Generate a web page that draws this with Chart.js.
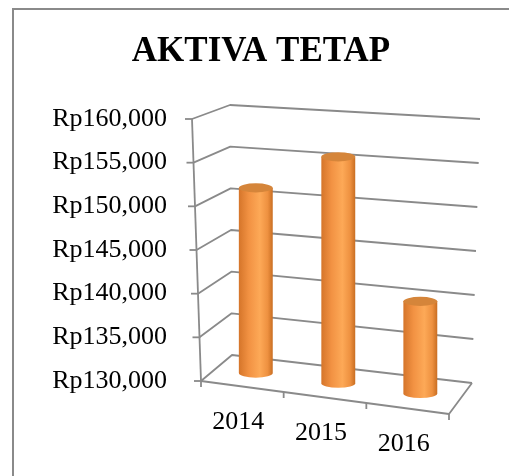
<!DOCTYPE html>
<html>
<head>
<meta charset="utf-8">
<script src="https://cdn.jsdelivr.net/npm/chart.js@4.4.1/dist/chart.umd.min.js"></script>
<style>
    html, body { margin: 0; padding: 0; background: #fff; }
</style>
</head>
<body>
<canvas id="aktivaChart" width="509" height="476"></canvas>
<script>
// chart data
const years = ['2014', '2015', '2016'];
const aktivaTetap = [151500, 155800, 140300];
const yMin = 130000;
const yMax = 160000;
const yStep = 5000;

const serif = "'Times New Roman', 'Liberation Serif', serif";
const lineGray = '#8a8a8a';

// corners of the 3d box, relative to the chart area (front plane)
function boxCorners(a) {
    return {
        f0L: [a.left, a.bottom],       f1L: [a.left - 9, a.top],
        b0L: [a.left + 31, a.bottom - 26], b1L: [a.left + 29, a.top - 14],
        f0R: [a.right, a.bottom + 33],  f1R: [a.right + 1, a.top + 18],
        b0R: [a.right + 23, a.bottom + 2], b1R: [a.right + 31, a.top]
    };
}

function lerp(p, q, t) {
    return [p[0] + (q[0] - p[0]) * t, p[1] + (q[1] - p[1]) * t];
}

// u: across (0..1), v: height (0..1), w: depth (0 front .. 1 back)
function project(c, u, v, w) {
    const floor = lerp(lerp(c.f0L, c.b0L, w), lerp(c.f0R, c.b0R, w), u);
    const ceil = lerp(lerp(c.f1L, c.b1L, w), lerp(c.f1R, c.b1R, w), u);
    return lerp(floor, ceil, v);
}

function line(ctx, pts) {
    ctx.beginPath();
    ctx.moveTo(pts[0][0], pts[0][1]);
    for (let i = 1; i < pts.length; i++) ctx.lineTo(pts[i][0], pts[i][1]);
    ctx.stroke();
}

const box3d = {
    id: 'box3d',
    beforeDraw(chart) {
        const ctx = chart.ctx;
        ctx.save();
        ctx.fillStyle = '#fff';
        ctx.fillRect(0, 0, chart.width, chart.height);
        ctx.strokeStyle = '#8a8a8a';
        ctx.lineWidth = 2;
        ctx.strokeRect(13, 9, 700, 700);
        ctx.restore();
    },
    beforeDatasetsDraw(chart) {
        const ctx = chart.ctx;
        const a = chart.chartArea;
        const c = boxCorners(a);
        const yScale = chart.scales.y;
        ctx.save();
        ctx.strokeStyle = lineGray;
        ctx.lineWidth = 1.8;
        ctx.lineJoin = 'round';

        // walls with gridlines
        yScale.ticks.forEach(t => {
            const v = (a.bottom - yScale.getPixelForValue(t.value)) / (a.bottom - a.top);
            const front = project(c, 0, v, 0);
            line(ctx, [front, project(c, 0, v, 1), project(c, 1, v, 1)]);
            line(ctx, [[front[0] - 7, front[1]], front]);
        });

        // front vertical axis
        line(ctx, [project(c, 0, 0, 0), project(c, 0, 1, 0)]);

        // floor edges and category ticks
        line(ctx, [project(c, 0, 0, 0), project(c, 1, 0, 0), project(c, 1, 0, 1)]);
        const n = years.length;
        for (let i = 0; i <= n; i++) {
            const p = project(c, i / n, 0, 0);
            line(ctx, [p, [p[0], p[1] + 6]]);
        }
        ctx.restore();
    },
    afterDatasetsDraw(chart) {
        const ctx = chart.ctx;
        const a = chart.chartArea;
        const c = boxCorners(a);
        const meta = chart.getDatasetMeta(0);
        ctx.save();
        meta.data.forEach((bar, i) => {
            const u = (bar.x - a.left) / (a.right - a.left);
            const v = (a.bottom - bar.y) / (a.bottom - a.top);
            const bot = project(c, u, 0, 0.5);
            const top = project(c, u, v, 0.5);
            const x = (bot[0] + top[0]) / 2;
            const r = bar.width / 2;
            const ry = r * 0.27;

            const grad = ctx.createLinearGradient(x - r, 0, x + r, 0);
            grad.addColorStop(0, '#d5752a');
            grad.addColorStop(0.3, '#f29243');
            grad.addColorStop(0.62, '#fda957');
            grad.addColorStop(0.85, '#ee9140');
            grad.addColorStop(1, '#c96e22');

            ctx.beginPath();
            ctx.moveTo(x - r, top[1]);
            ctx.lineTo(x - r, bot[1]);
            ctx.ellipse(x, bot[1], r, ry, 0, Math.PI, 0, true);
            ctx.lineTo(x + r, top[1]);
            ctx.closePath();
            ctx.fillStyle = grad;
            ctx.fill();

            ctx.beginPath();
            ctx.ellipse(x, top[1], r, ry, 0, 0, Math.PI * 2);
            ctx.fillStyle = '#d5853a';
            ctx.fill();
        });

        // category labels along the slanted front edge
        ctx.fillStyle = '#000';
        ctx.font = '26px ' + serif;
        ctx.textAlign = 'center';
        ctx.textBaseline = 'middle';
        const n = years.length;
        years.forEach((yr, i) => {
            const p = project(c, (i + 0.5) / n, 0, 0);
            ctx.fillText(yr, p[0] - 4, p[1] + 36);
        });
        ctx.restore();
    }
};

const ctx = document.getElementById('aktivaChart').getContext('2d');
const aktivaChart = new Chart(ctx, {
    type: 'bar',
    data: {
        labels: years,
        datasets: [{
            label: 'Aktiva Tetap',
            data: aktivaTetap,
            backgroundColor: 'rgba(0,0,0,0)',
            borderWidth: 0,
            categoryPercentage: 1,
            barPercentage: 0.41
        }]
    },
    options: {
        responsive: false,
        animation: false,
        layout: { padding: { left: 13, top: 0, right: 0, bottom: 95 } },
        plugins: {
            legend: { display: false },
            tooltip: { enabled: false },
            title: {
                display: true,
                text: 'AKTIVA TETAP',
                color: '#000',
                font: { family: serif, size: 35, weight: 'bold' },
                padding: { top: 31, bottom: 46 }
            }
        },
        scales: {
            x: { display: false },
            y: {
                min: yMin,
                max: yMax,
                grid: { display: false, drawTicks: false },
                border: { display: false },
                ticks: {
                    stepSize: yStep,
                    padding: 34,
                    color: '#000',
                    font: { family: serif, size: 26 },
                    callback: value => 'Rp' + value.toLocaleString('en-US')
                },
                afterFit: scale => { scale.width = 188; }
            },
            // empty right-hand gutter that leaves room for the box depth
            gutter: {
                position: 'right',
                grid: { display: false },
                border: { display: false },
                ticks: { display: false },
                afterFit: scale => { scale.width = 60; }
            }
        }
    },
    plugins: [box3d]
});
</script>
</body>
</html>
